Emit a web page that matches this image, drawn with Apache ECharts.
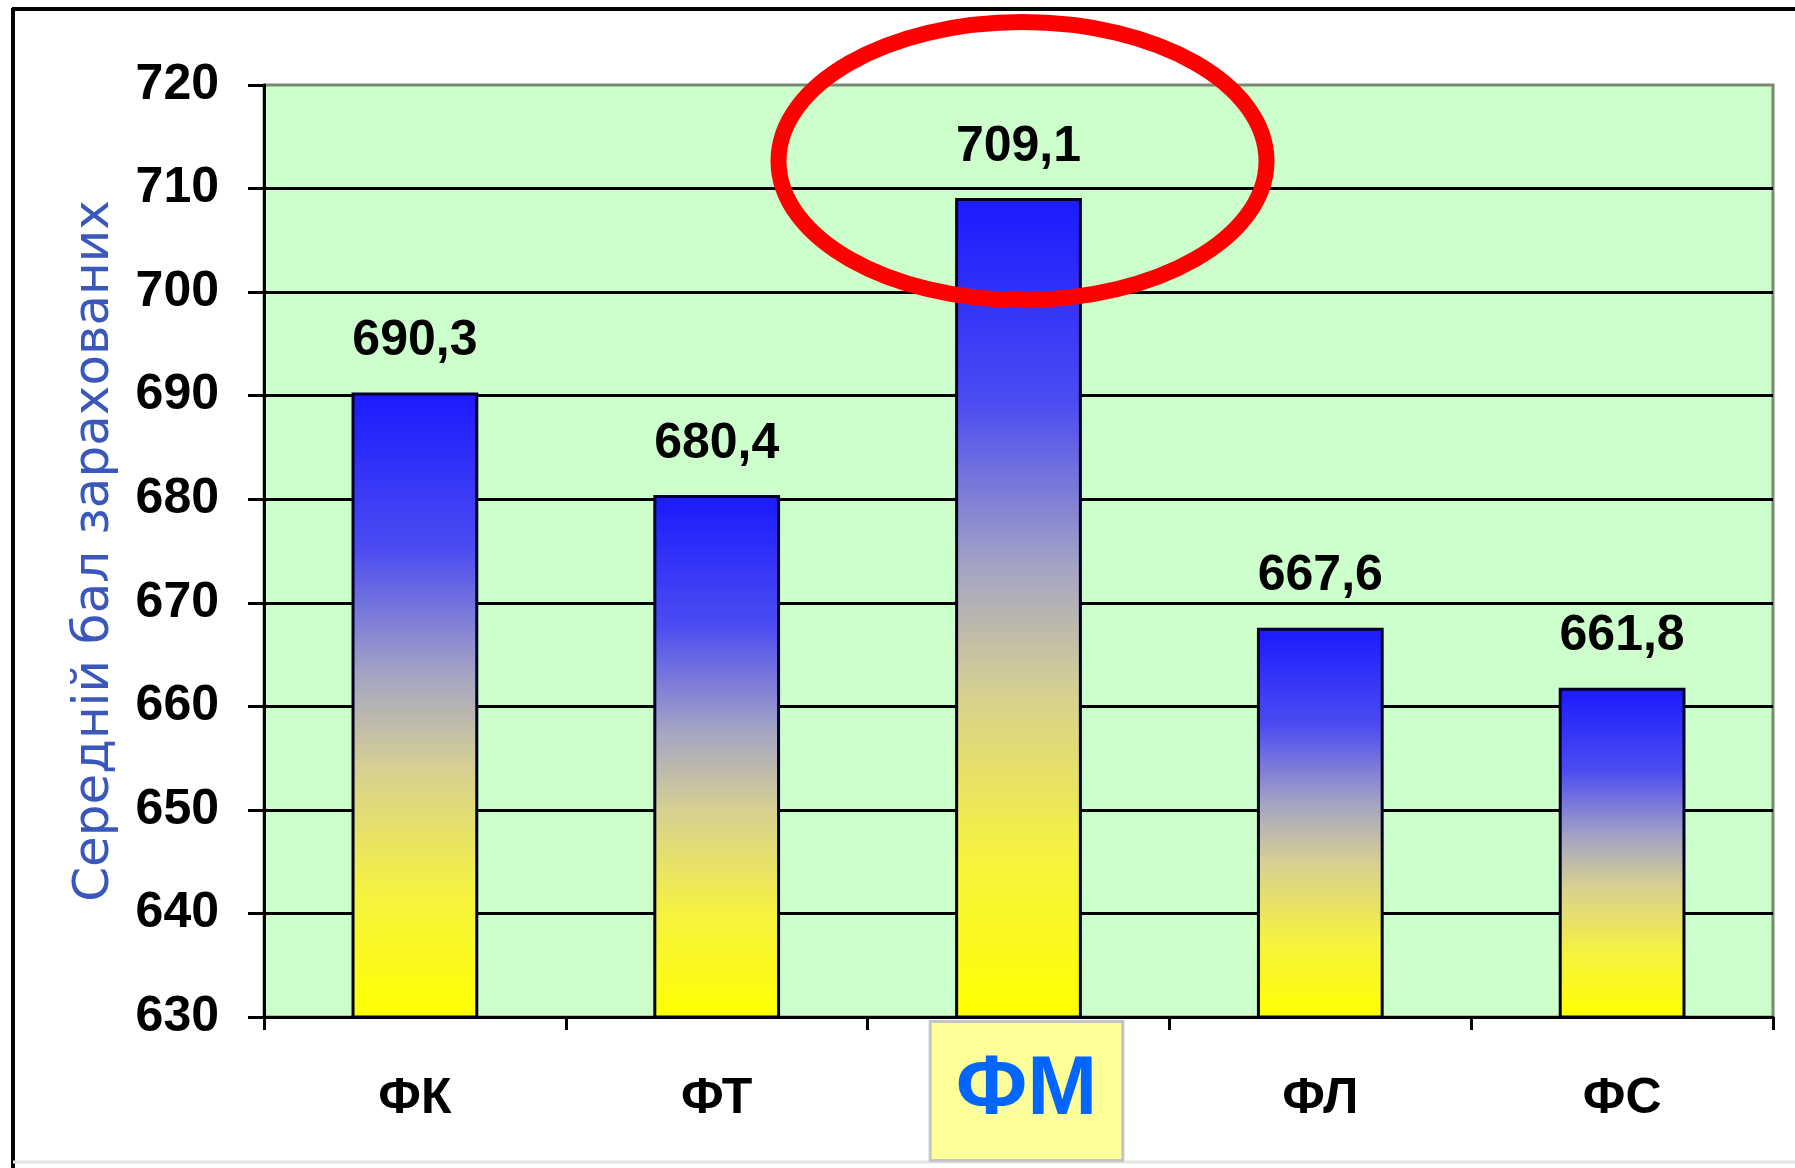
<!DOCTYPE html>
<html>
<head>
<meta charset="utf-8">
<script src="https://cdn.jsdelivr.net/npm/echarts@6/dist/echarts.min.js"></script>
<style>
	html, body { margin: 0; padding: 0; background: #fff; }
	#scoreChart { width: 1795px; height: 1168px; }
</style>
</head>
<body>
<div id="scoreChart"></div>
<script>
// Середній бал зарахованих по факультетах
var categories = ['ФК', 'ФТ', 'ФМ', 'ФЛ', 'ФС'];
var scores = [690.3, 680.4, 709.1, 667.6, 661.8];
var axisMin = 630;
var axisMax = 720;
var axisStep = 10;
var highlighted = 'ФМ';
var axisTitle = 'Середній бал зарахованих';

var boldFont = '"Liberation Sans", Arial, sans-serif';

initScoreChart();

/*
 * chart with the bars and the red mark around the best faculty
 */
function initScoreChart() {
	var myChart = echarts.init(document.getElementById('scoreChart'), null, { renderer: 'canvas' });

	var barColor = new echarts.graphic.LinearGradient(0, 0, 0, 1, [
		{ offset: 0, color: '#1a1aff' },
		{ offset: 0.25, color: '#4c4cf2' },
		{ offset: 0.45, color: '#a4a4c4' },
		{ offset: 0.6, color: '#d6d092' },
		{ offset: 0.8, color: '#f6f240' },
		{ offset: 1, color: '#ffff00' }
	]);

	var option = {
		backgroundColor: '#fff',
		animation: false,
		grid: {
			left: 264,
			right: 22,
			top: 85,
			bottom: 151,
			show: true,
			backgroundColor: '#ccffcc',
			borderColor: '#7a8a72',
			borderWidth: 3
		},
		xAxis: {
			type: 'category',
			data: categories,
			axisLine: { lineStyle: { color: '#000', width: 3 } },
			axisTick: { show: true, length: 13, lineStyle: { color: '#000', width: 3 } },
			axisLabel: {
				interval: 0,
				margin: 26,
				formatter: function(v) {
					return v == highlighted ? '{sp|}{hl|' + v + '}' : '{n|' + v + '}';
				},
				rich: {
					sp: {
						width: 16,
						lineHeight: 96
					},
					n: {
						fontFamily: boldFont,
						fontWeight: 'bold',
						fontSize: 50,
						color: '#000',
						lineHeight: 96,
						padding: [34, 0, 18, 0]
					},
					hl: {
						fontFamily: boldFont,
						fontWeight: 'bold',
						fontSize: 84,
						color: '#0066ff',
						lineHeight: 96,
						backgroundColor: '#ffff99',
						borderColor: '#c4c4c4',
						borderWidth: 3,
						padding: [26, 24, 26, 24]
					}
				}
			}
		},
		yAxis: {
			type: 'value',
			min: axisMin,
			max: axisMax,
			interval: axisStep,
			name: axisTitle,
			nameLocation: 'middle',
			nameGap: 144,
			nameRotate: 90,
			nameTextStyle: {
				fontFamily: '"DejaVu Sans", sans-serif',
				fontSize: 50,
				color: '#3a58bb'
			},
			axisLine: { show: true, lineStyle: { color: '#000', width: 3 } },
			axisTick: { show: true, length: 16, lineStyle: { color: '#000', width: 3 } },
			axisLabel: {
				margin: 45,
				fontFamily: boldFont,
				fontWeight: 'bold',
				fontSize: 50,
				color: '#000'
			},
			splitLine: {
				show: true,
				showMaxLine: false,
				lineStyle: { color: '#000', width: 3 }
			}
		},
		series: [{
			name: axisTitle,
			type: 'bar',
			data: scores,
			barCategoryGap: '58%',
			itemStyle: {
				color: barColor,
				borderColor: '#000022',
				borderWidth: 3
			},
			label: {
				show: true,
				position: 'top',
				distance: 26,
				fontFamily: boldFont,
				fontWeight: 'bold',
				fontSize: 50,
				color: '#000',
				formatter: function(p) {
					return p.value.toFixed(1).replace('.', ',');
				}
			}
		}],
		graphic: [
			{ type: 'line', shape: { x1: 12, y1: 9, x2: 1795, y2: 9 }, style: { stroke: '#000', lineWidth: 4 } },
			{ type: 'line', shape: { x1: 13, y1: 8, x2: 13, y2: 1168 }, style: { stroke: '#000', lineWidth: 4 } },
			{ type: 'line', shape: { x1: 13, y1: 1162, x2: 1795, y2: 1162 }, style: { stroke: '#e4e4e4', lineWidth: 3 } }
		]
	};
	myChart.setOption(option, true);

	// red ellipse round the highlighted bar
	var cx = myChart.convertToPixel({ xAxisIndex: 0 }, highlighted) + 4;
	myChart.setOption({
		graphic: [{
			id: 'mark',
			type: 'ellipse',
			z: 100,
			shape: { cx: cx, cy: 161, rx: 244, ry: 139 },
			style: { fill: 'none', stroke: '#ff0000', lineWidth: 16 }
		}]
	});
}
</script>
</body>
</html>
